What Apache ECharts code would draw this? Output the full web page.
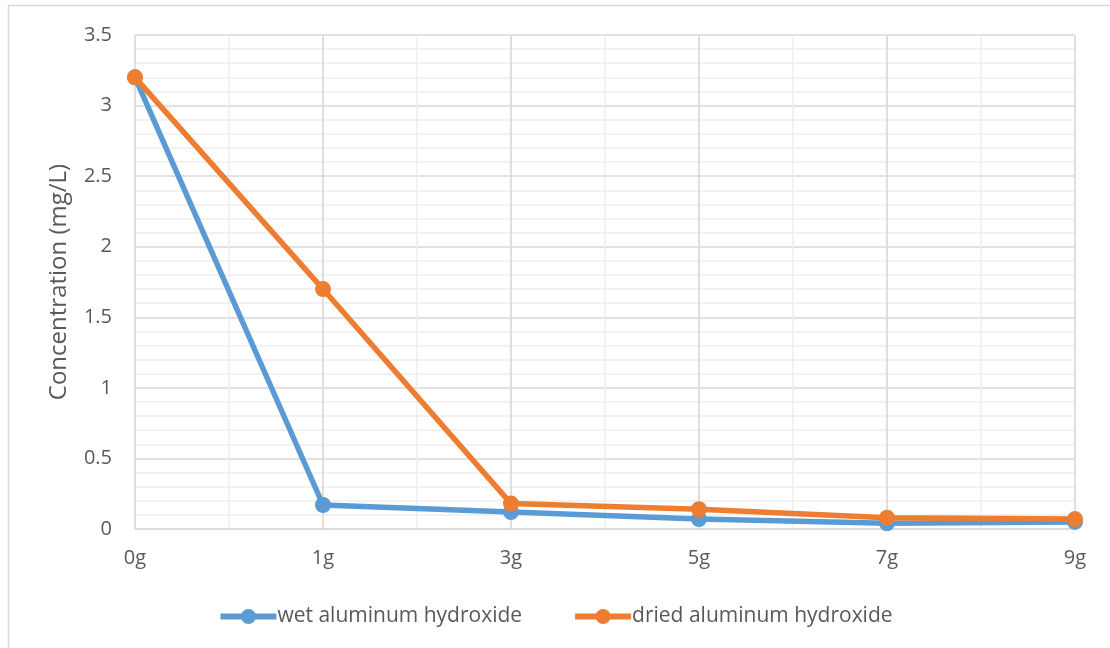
<!DOCTYPE html>
<html><head><meta charset="utf-8">
<script src="https://cdn.jsdelivr.net/npm/echarts@6/dist/echarts.min.js"></script>
<style>html,body{margin:0;padding:0;background:#fff}#c{width:1110px;height:648px}</style>
</head><body><div id="c"></div>
<script>
var categories = ['0g','1g','3g','5g','7g','9g'];
var wetValues = [3.2, 0.17, 0.12, 0.07, 0.04, 0.05];
var driedValues = [3.2, 1.7, 0.18, 0.14, 0.08, 0.07];
var seriesNames = ['wet aluminum hydroxide', 'dried aluminum hydroxide'];
var yAxisName = 'Concentration (mg/L)';

var font = '"Open Sans", "Liberation Sans", sans-serif';
var chart = echarts.init(document.getElementById('c'));
chart.setOption({
  animation: false,
  backgroundColor: '#fff',
  graphic: [{type:'rect', shape:{x:8.5,y:5.5,width:1110,height:660}, style:{fill:'none', stroke:'#d9d9d9', lineWidth:1.5}, z:-10}],
  grid: {left:135, right:35, top:35, bottom:119},
  legend: {
    bottom: 16, left: 'center',
    itemWidth: 56, itemHeight: 19, itemGap: 50,
    lineStyle: {width: 6},
    textStyle: {fontFamily: font, fontSize: 21, color:'#595959', padding:[0,0,0,-4]},
    data: seriesNames
  },
  xAxis: [{
    type: 'category', data: categories, boundaryGap: false, z: 3,
    axisLine: {show:true, lineStyle:{color:'#d9d9d9', width:1.5}},
    axisTick: {show:false},
    axisLabel: {fontFamily: font, fontSize: 20, color:'#595959', margin: 19},
    splitLine: {show:true, lineStyle:{color:'#d9d9d9', width:1.5}}
  },{
    type: 'value', min: 0, max: 5, interval: 0.5, show: true, z: 1,
    axisLine:{show:false}, axisTick:{show:false}, axisLabel:{show:false},
    splitLine: {show:true, lineStyle:{color:'#eeeeee', width:1.5}}
  }],
  yAxis: {
    type: 'value', min: 0, max: 3.5, interval: 0.5,
    name: yAxisName, nameLocation: 'middle', nameGap: 64,
    nameTextStyle: {fontFamily: font, fontSize: 24, color:'#595959'},
    axisLine: {show:false}, axisTick: {show:false},
    axisLabel: {fontFamily: font, fontSize: 20, color:'#595959', margin: 23},
    splitLine: {show:true, lineStyle:{color:'#d9d9d9', width:1.5}},
    minorTick: {show:false, splitNumber:5},
    minorSplitLine: {show:true, lineStyle:{color:'#eeeeee', width:1.5}}
  },
  series: [{
    name: seriesNames[0], type: 'line', data: wetValues, xAxisIndex: 0, z: 5,
    symbol: 'circle', symbolSize: 16,
    lineStyle: {color:'#5B9BD5', width:5.5}, itemStyle: {color:'#5B9BD5'}
  },{
    name: seriesNames[1], type: 'line', data: driedValues, xAxisIndex: 0, z: 6,
    symbol: 'circle', symbolSize: 16,
    lineStyle: {color:'#ED7D31', width:5.5}, itemStyle: {color:'#ED7D31'}
  }]
});
</script></body></html>
